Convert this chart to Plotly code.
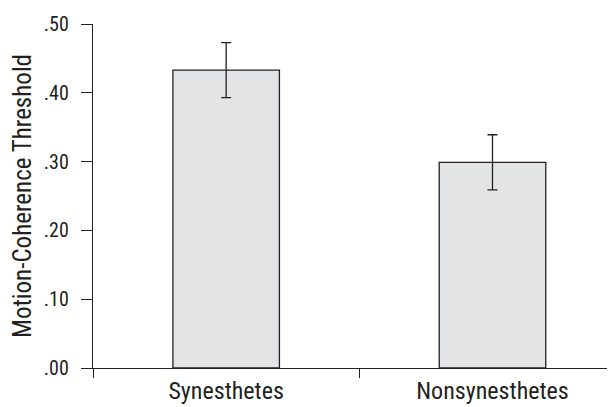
import plotly.graph_objects as go

categories = ["Synesthetes", "Nonsynesthetes"]
thresholds = [0.433, 0.299]
errors = [0.040, 0.040]
ytick_vals = [0.0, 0.1, 0.2, 0.3, 0.4, 0.5]
ytick_text = [".00", ".10", ".20", ".30", ".40", ".50"]

FONT = "Roboto Condensed, DejaVu Sans Condensed, Liberation Sans Narrow, Arial Narrow, sans-serif"
INK = "#231f20"

fig = go.Figure(go.Bar(
    x=categories, y=thresholds, width=0.4,
    marker=dict(color="#e3e4e6", line=dict(color=INK, width=1.3)),
    error_y=dict(type="data", array=errors, visible=True, color=INK, thickness=1.3, width=5),
))

fig.update_layout(
    width=607, height=399,
    margin=dict(l=85, r=0, t=16, b=39),
    plot_bgcolor="white", paper_bgcolor="white",
    font=dict(family=FONT, color=INK, size=20),
    showlegend=False,
)
fig.update_xaxes(
    type="category", range=[-0.5, 1.46],
    showline=True, linecolor=INK, linewidth=1.3,
    ticks="outside", tickson="boundaries", ticklen=9, tickcolor=INK, tickwidth=1.3,
    ticklabelstandoff=1,
    tickfont=dict(size=24), showgrid=False, zeroline=False, automargin=False,
)
fig.update_yaxes(
    range=[0, 0.5], tickvals=ytick_vals, ticktext=ytick_text,
    showline=True, linecolor=INK, linewidth=1.3,
    ticks="outside", ticklen=11, tickcolor=INK, tickwidth=1.3, ticklabelstandoff=8,
    tickfont=dict(size=20), showgrid=False, zeroline=False, automargin=False,
    title=dict(text="Motion-Coherence Threshold", font=dict(size=25), standoff=9),
)

fig.write_html("out.html")
